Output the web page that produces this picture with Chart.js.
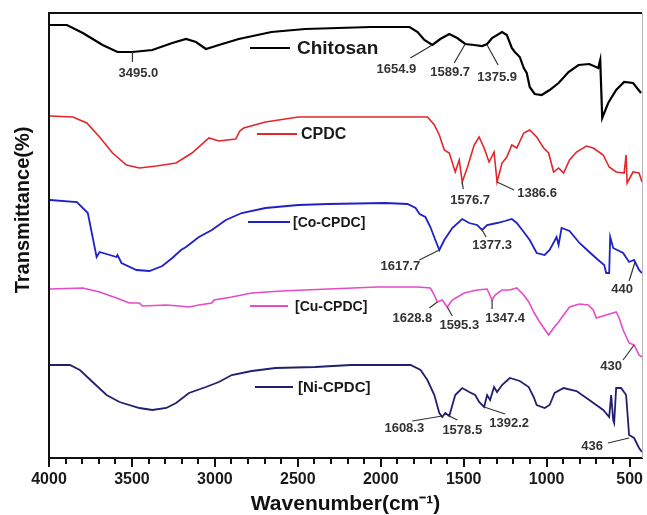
<!DOCTYPE html>
<html>
<head>
<meta charset="utf-8">
<script src="https://cdn.jsdelivr.net/npm/chart.js@4/dist/chart.umd.min.js"></script>
<style>
  html, body { margin: 0; padding: 0; background: #fff; }
  #ftir { display: block; }
</style>
</head>
<body>
<canvas id="ftir" width="647" height="515"></canvas>
<script>
// [wavenumber cm-1, transmittance (arb., curves stacked)]
const chitosan = [
  [3994, 434], [3892, 434], [3796, 426], [3677, 414], [3587, 407], [3497, 407],
  [3377, 409], [3257, 416], [3174, 420], [3114, 417], [3054, 410], [2976, 414],
  [2856, 420], [2659, 427], [2455, 430], [2258, 431], [2060, 432], [1826, 432],
  [1778, 427], [1737, 419], [1689, 414], [1641, 420], [1587, 425], [1539, 421],
  [1491, 415], [1437, 414], [1389, 413], [1359, 415], [1329, 421], [1269, 427],
  [1240, 424], [1210, 411], [1192, 407], [1162, 402], [1138, 391], [1120, 386],
  [1102, 372], [1072, 365], [1030, 364], [982, 369], [928, 376], [868, 387],
  [808, 394], [743, 395], [689, 391], [677, 399], [665, 341], [629, 356],
  [581, 369], [533, 377], [479, 376], [431, 366]
];
const cpdc = [
  [3994, 343], [3856, 342], [3772, 336], [3695, 322], [3617, 306], [3533, 294],
  [3455, 291], [3353, 293], [3234, 296], [3138, 306], [3036, 321], [2976, 318],
  [2874, 320], [2850, 328], [2826, 331], [2695, 337], [2497, 342], [2317, 342],
  [2018, 342], [1718, 342], [1677, 334], [1647, 324], [1617, 309], [1587, 306],
  [1551, 287], [1527, 299], [1509, 277], [1479, 291], [1437, 314], [1407, 322],
  [1377, 311], [1347, 297], [1317, 307], [1299, 277], [1269, 296], [1240, 302],
  [1210, 314], [1180, 311], [1138, 326], [1102, 329], [1060, 322], [1018, 311],
  [988, 306], [958, 287], [928, 291], [898, 286], [862, 299], [820, 307],
  [760, 313], [719, 311], [659, 304], [623, 292], [581, 287], [533, 286],
  [521, 304], [515, 276], [479, 287], [443, 286], [425, 277]
];
const coCpdc = [
  [3994, 259], [3832, 257], [3766, 246], [3742, 226], [3713, 202], [3695, 207],
  [3593, 202], [3587, 204], [3563, 196], [3473, 189], [3395, 188], [3317, 193],
  [3257, 201], [3204, 209], [3174, 212], [3096, 222], [3018, 229], [2934, 239],
  [2838, 246], [2695, 251], [2497, 254], [2317, 255], [1976, 256], [1838, 255],
  [1790, 251], [1766, 245], [1731, 242], [1701, 232], [1671, 219], [1647, 209],
  [1617, 219], [1569, 231], [1509, 240], [1467, 236], [1419, 234], [1389, 229],
  [1359, 234], [1299, 236], [1251, 238], [1210, 240], [1180, 236], [1138, 227],
  [1102, 219], [1060, 206], [1012, 204], [982, 209], [940, 222], [928, 214],
  [910, 231], [862, 228], [802, 216], [743, 207], [689, 199], [653, 194],
  [641, 186], [623, 186], [617, 222], [599, 211], [539, 206], [503, 197],
  [473, 199], [443, 189], [425, 186]
];
const cuCpdc = [
  [3994, 170], [3796, 171], [3695, 167], [3593, 161], [3515, 156], [3455, 156],
  [3437, 153], [3293, 154], [3216, 153], [3156, 152], [3096, 154], [3018, 156],
  [3006, 159], [2898, 162], [2778, 166], [2599, 168], [2317, 170], [2018, 172],
  [1778, 172], [1701, 171], [1677, 164], [1659, 157], [1629, 159], [1599, 152],
  [1569, 159], [1497, 166], [1419, 169], [1359, 170], [1329, 159], [1311, 164],
  [1269, 169], [1222, 169], [1180, 171], [1138, 164], [1108, 157], [1078, 147],
  [1042, 137], [988, 124], [958, 131], [928, 137], [898, 144], [862, 152],
  [802, 155], [749, 154], [719, 149], [701, 141], [641, 144], [581, 147],
  [563, 141], [539, 129], [503, 116], [473, 114], [443, 104], [425, 102]
];
const niCpdc = [
  [3994, 94], [3874, 94], [3814, 89], [3737, 77], [3653, 64], [3575, 57],
  [3455, 51], [3377, 49], [3293, 51], [3234, 56], [3156, 66], [3054, 72],
  [2976, 77], [2898, 84], [2778, 88], [2635, 91], [2395, 92], [2180, 94],
  [1820, 94], [1760, 89], [1719, 79], [1677, 64], [1647, 46], [1629, 42],
  [1611, 46], [1587, 43], [1551, 64], [1509, 71], [1467, 67], [1431, 64],
  [1407, 57], [1377, 52], [1359, 64], [1341, 59], [1317, 72], [1299, 67],
  [1269, 74], [1222, 81], [1162, 78], [1108, 72], [1078, 62], [1060, 54],
  [1012, 51], [982, 54], [952, 66], [898, 71], [820, 68], [743, 59],
  [659, 49], [623, 42], [611, 64], [599, 39], [593, 36], [581, 71],
  [551, 71], [521, 64], [503, 24], [473, 21], [443, 11], [425, 7]
];

const seriesNames = ["Chitosan", "CPDC", "[Co-CPDC]", "[Cu-CPDC]", "[Ni-CPDC]"];
const xTicks = [4000, 3500, 3000, 2500, 2000, 1500, 1000, 500];

// peak labels: [wavenumber where the leader meets the curve, transmittance, text]
const chitosanPeaks = [[3497, 407, "3495.0"], [1689, 414, "1654.9"], [1491, 415, "1589.7"], [1359, 414, "1375.9"]];
const cpdcPeaks = [[1509, 277, "1576.7"], [1299, 277, "1386.6"]];
const coPeaks = [[1647, 209, "1617.7"], [1389, 229, "1377.3"], [467, 197, "440"]];
const cuPeaks = [[1659, 157, "1628.8"], [1599, 152, "1595.3"], [1329, 159, "1347.4"], [473, 114, "430"]];
const niPeaks = [[1629, 43, "1608.3"], [1587, 43, "1578.5"], [1377, 52, "1392.2"], [503, 21, "436"]];

// ---- styling ----
const FONT = "'Liberation Sans', Arial, sans-serif";
const colors = ["#000000", "#e3262b", "#2020c8", "#e64bc8", "#22206e"];
const widths = [2.2, 1.6, 1.8, 1.6, 1.8];

// leader end (dx, dy) and text centre (dx, dy) in px from the anchor
const peakOffsets = {
  "3495.0": [0, 10, 6, 21], "1654.9": [-22, 13, -36, 24], "1589.7": [-11, 19, -15, 28],
  "1375.9": [11, 20, 10, 32], "1576.7": [1, 7, 8, 18], "1386.6": [17, 8, 40, 11],
  "1617.7": [-20, 10, -39, 16], "1377.3": [4, 7, 10, 15], "440": [-6, 19, -13, 27],
  "1628.8": [-8, 6, -25, 16], "1595.3": [5, 9, 12, 18], "1347.4": [0, 9, 13, 18],
  "430": [-11, 15, -23, 21], "1608.3": [-30, 5, -38, 12], "1578.5": [8, 4, 13, 14],
  "1392.2": [21, 7, 25, 16], "436": [-21, 5, -37, 8]
};

// legend entries, px from chart area top-left
const legendLayout = [
  { dx: 201, dy: 35, len: 40, gap: 7, size: 19 },
  { dx: 208, dy: 121, len: 40, gap: 4, size: 16 },
  { dx: 199, dy: 209, len: 42, gap: 3, size: 14 },
  { dx: 201, dy: 293, len: 38, gap: 7, size: 14 },
  { dx: 206, dy: 374, len: 38, gap: 5, size: 15 }
];

const allSeries = [chitosan, cpdc, coCpdc, cuCpdc, niCpdc];
const allPeaks = [chitosanPeaks, cpdcPeaks, coPeaks, cuPeaks, niPeaks];

const decor = {
  id: "decor",
  afterDatasetsDraw(chart) {
    const { ctx, chartArea: a, scales: { x, y } } = chart;
    ctx.save();

    // top and right frame
    ctx.strokeStyle = "#111";
    ctx.lineWidth = 2;
    ctx.beginPath();
    ctx.moveTo(a.left, a.top);
    ctx.lineTo(a.right, a.top);
    ctx.stroke();
    ctx.strokeStyle = "#b5b5b5";
    ctx.lineWidth = 1;
    ctx.beginPath();
    ctx.moveTo(a.right + 0.5, a.top);
    ctx.lineTo(a.right + 0.5, a.bottom);
    ctx.stroke();

    // outward tick marks: major every 500, minor every 100
    ctx.strokeStyle = "#111";
    ctx.lineWidth = 2;
    for (let v = xTicks[0]; v >= x.min; v -= 100) {
      const px = Math.round(x.getPixelForValue(v));
      const len = v % 500 === 0 ? 9 : 6;
      ctx.beginPath();
      ctx.moveTo(px, a.bottom);
      ctx.lineTo(px, a.bottom + len);
      ctx.stroke();
    }

    // legend
    legendLayout.forEach((l, i) => {
      const lx = a.left + l.dx, ly = a.top + l.dy;
      ctx.strokeStyle = colors[i];
      ctx.lineWidth = 2;
      ctx.beginPath();
      ctx.moveTo(lx, ly);
      ctx.lineTo(lx + l.len, ly);
      ctx.stroke();
      ctx.fillStyle = "#1a1a1a";
      ctx.font = `bold ${l.size}px ${FONT}`;
      ctx.textAlign = "left";
      ctx.textBaseline = "middle";
      ctx.fillText(seriesNames[i], lx + l.len + l.gap, ly + 1);
    });

    // peak annotations
    ctx.strokeStyle = "#333";
    ctx.fillStyle = "#333";
    ctx.lineWidth = 1.2;
    ctx.font = `bold 13px ${FONT}`;
    ctx.textAlign = "center";
    ctx.textBaseline = "middle";
    allPeaks.forEach(list => list.forEach(([wn, t, label]) => {
      const o = peakOffsets[label];
      const px = x.getPixelForValue(wn), py = y.getPixelForValue(t);
      ctx.beginPath();
      ctx.moveTo(px, py);
      ctx.lineTo(px + o[0], py + o[1]);
      ctx.stroke();
      ctx.fillText(label, px + o[2], py + o[3]);
    }));

    // y axis title
    ctx.save();
    ctx.translate(23, 210);
    ctx.rotate(-Math.PI / 2);
    ctx.font = `bold 20px ${FONT}`;
    ctx.fillStyle = "#111";
    ctx.fillText("Transmittance(%)", 0, 0);
    ctx.restore();

    ctx.restore();
  }
};

new Chart(document.getElementById("ftir"), {
  type: "line",
  data: {
    datasets: allSeries.map((s, i) => ({
      label: seriesNames[i],
      data: s.map(([wn, t]) => ({ x: wn, y: t })),
      borderColor: colors[i],
      borderWidth: widths[i],
      pointRadius: 0,
      tension: 0,
      fill: false
    }))
  },
  options: {
    responsive: false,
    animation: false,
    devicePixelRatio: 1,
    layout: { padding: { top: 13, right: 3, left: 0, bottom: 0 } },
    plugins: { legend: { display: false }, tooltip: { enabled: false } },
    scales: {
      x: {
        type: "linear",
        reverse: true,
        min: 425,
        max: 4000,
        afterBuildTicks: s => { s.ticks = xTicks.map(v => ({ value: v })); },
        afterFit: s => { s.height = 57; },
        grid: { display: false, drawTicks: true, tickLength: 8 },
        border: { display: true, color: "#111", width: 2 },
        ticks: {
          autoSkip: false,
          maxRotation: 0,
          padding: 4,
          color: "#1a1a1a",
          font: { family: FONT, size: 16, weight: "bold" },
          callback: v => String(v)
        },
        title: {
          display: true,
          text: "Wavenumber(cm\u207B\u00B9)",
          color: "#111",
          padding: 0,
          font: { family: FONT, size: 21, weight: "bold", lineHeight: 1 }
        }
      },
      y: {
        min: 1,
        max: 446,
        afterFit: s => { s.width = 49; },
        grid: { display: false },
        border: { display: true, color: "#111", width: 2 },
        ticks: { display: false }
      }
    }
  },
  plugins: [decor]
});
</script>
</body>
</html>
